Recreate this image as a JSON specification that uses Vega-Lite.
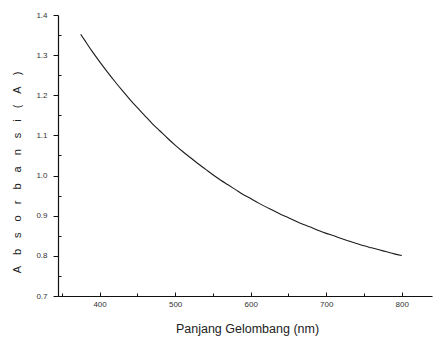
{
  "$schema": "https://vega.github.io/schema/vega-lite/v6.json",
  "autosize": "none",
  "padding": {"left": 58, "top": 15, "right": 2, "bottom": 45},
  "width": 374,
  "height": 281,
  "background": "white",
  "config": {
    "view": {"stroke": null},
    "font": "Liberation Sans",
    "axis": {
      "grid": false,
      "domainColor": "#111",
      "domainWidth": 1.2,
      "tickColor": "#111",
      "tickWidth": 1,
      "labelColor": "#333",
      "labelFont": "Liberation Sans",
      "labelFontSize": 8,
      "titleFont": "Liberation Sans",
      "titleFontWeight": "normal",
      "titleColor": "#222"
    }
  },
  "data": {
    "values": [
      {"wavelength": 375, "absorbance": 1.352},
      {"wavelength": 380, "absorbance": 1.338},
      {"wavelength": 390, "absorbance": 1.310},
      {"wavelength": 400, "absorbance": 1.284},
      {"wavelength": 410, "absorbance": 1.259},
      {"wavelength": 420, "absorbance": 1.235},
      {"wavelength": 430, "absorbance": 1.212},
      {"wavelength": 440, "absorbance": 1.190},
      {"wavelength": 450, "absorbance": 1.169},
      {"wavelength": 460, "absorbance": 1.149},
      {"wavelength": 470, "absorbance": 1.129},
      {"wavelength": 480, "absorbance": 1.111},
      {"wavelength": 490, "absorbance": 1.093},
      {"wavelength": 500, "absorbance": 1.076},
      {"wavelength": 510, "absorbance": 1.060},
      {"wavelength": 520, "absorbance": 1.045},
      {"wavelength": 530, "absorbance": 1.030},
      {"wavelength": 540, "absorbance": 1.016},
      {"wavelength": 550, "absorbance": 1.002},
      {"wavelength": 560, "absorbance": 0.989},
      {"wavelength": 570, "absorbance": 0.977},
      {"wavelength": 580, "absorbance": 0.965},
      {"wavelength": 590, "absorbance": 0.953},
      {"wavelength": 600, "absorbance": 0.943},
      {"wavelength": 610, "absorbance": 0.932},
      {"wavelength": 620, "absorbance": 0.922},
      {"wavelength": 630, "absorbance": 0.913},
      {"wavelength": 640, "absorbance": 0.903},
      {"wavelength": 650, "absorbance": 0.895},
      {"wavelength": 660, "absorbance": 0.886},
      {"wavelength": 670, "absorbance": 0.878},
      {"wavelength": 680, "absorbance": 0.871},
      {"wavelength": 690, "absorbance": 0.863},
      {"wavelength": 700, "absorbance": 0.856},
      {"wavelength": 710, "absorbance": 0.850},
      {"wavelength": 720, "absorbance": 0.843},
      {"wavelength": 730, "absorbance": 0.837},
      {"wavelength": 740, "absorbance": 0.831},
      {"wavelength": 750, "absorbance": 0.825},
      {"wavelength": 760, "absorbance": 0.820},
      {"wavelength": 770, "absorbance": 0.815},
      {"wavelength": 780, "absorbance": 0.810},
      {"wavelength": 790, "absorbance": 0.805},
      {"wavelength": 800, "absorbance": 0.801}
    ]
  },
  "layer": [
    {
      "mark": {"type": "line", "color": "#1c1c1c", "strokeWidth": 1.1, "interpolate": "monotone"},
      "encoding": {
        "x": {
          "field": "wavelength",
          "type": "quantitative",
          "scale": {"domain": [345, 840], "nice": false, "zero": false},
          "axis": {
            "orient": "bottom",
            "values": [400, 500, 600, 700, 800],
            "format": "d",
            "tickSize": -4,
            "labelPadding": 8,
            "title": "Panjang Gelombang (nm)",
            "titleFontSize": 12.5,
            "titleX": 189,
            "titleY": 32,
            "titleBaseline": "middle"
          }
        },
        "y": {
          "field": "absorbance",
          "type": "quantitative",
          "scale": {"domain": [0.7, 1.4], "nice": false, "zero": false},
          "axis": {
            "orient": "left",
            "values": [0.7, 0.8, 0.9, 1.0, 1.1, 1.2, 1.3, 1.4],
            "format": ".1f",
            "tickSize": 5,
            "labelPadding": 6,
            "title": "A\u2003b\u2003s\u2003o\u2003r\u2003b\u2003a\u2003n\u2003s\u2003i\u2003(\u2003A\u2003)",
            "titleFontSize": 11,
            "titleAngle": -90,
            "titleX": -41,
            "titleY": 157,
            "titleBaseline": "middle"
          }
        }
      }
    },
    {
      "mark": {"type": "line", "opacity": 0},
      "encoding": {
        "x": {
          "field": "wavelength",
          "type": "quantitative",
          "scale": {"domain": [345, 840], "nice": false, "zero": false},
          "axis": {
            "orient": "bottom",
            "values": [350, 450, 550, 650, 750],
            "tickSize": -3,
            "labels": false,
            "domain": false,
            "title": null
          }
        },
        "y": {
          "field": "absorbance",
          "type": "quantitative",
          "scale": {"domain": [0.7, 1.4], "nice": false, "zero": false},
          "axis": {
            "orient": "left",
            "values": [0.75, 0.85, 0.95, 1.05, 1.15, 1.25, 1.35],
            "tickSize": -3,
            "labels": false,
            "domain": false,
            "title": null
          }
        }
      }
    }
  ],
  "resolve": {
    "scale": {"x": "independent", "y": "independent"},
    "axis": {"x": "independent", "y": "independent"}
  }
}
